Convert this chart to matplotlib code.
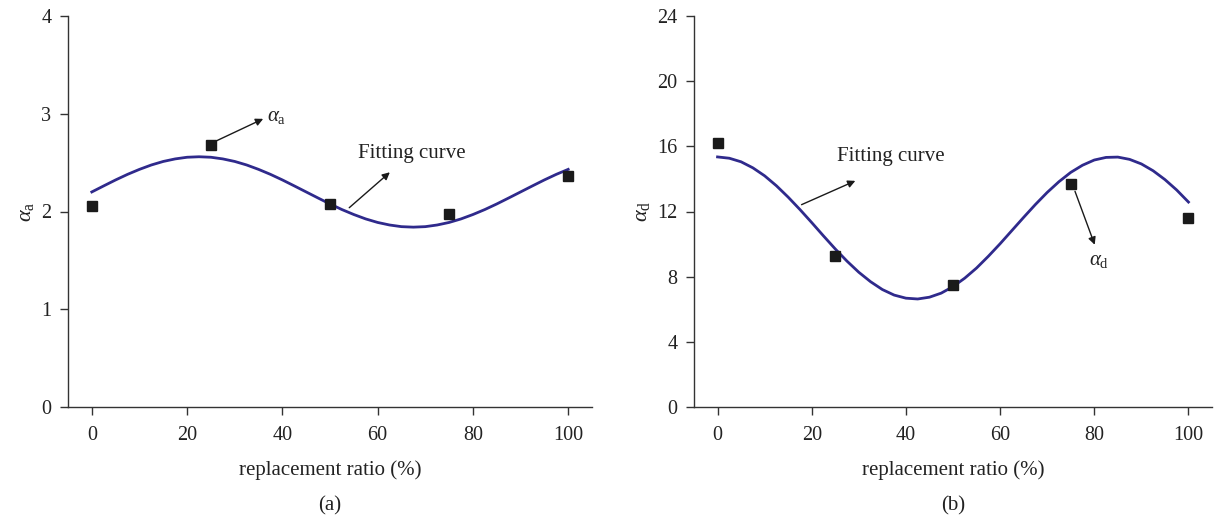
import matplotlib
matplotlib.use("Agg")
import matplotlib.pyplot as plt

plt.rcParams['font.family'] = ['Liberation Serif', 'DejaVu Serif']
plt.rcParams['mathtext.fontset'] = 'custom'
plt.rcParams['mathtext.rm'] = 'Liberation Serif'
plt.rcParams['mathtext.it'] = 'Liberation Serif:italic'

# ---- data ----
ratio = [0, 25, 50, 75, 100]
alpha_a = [2.06, 2.68, 2.08, 1.97, 2.36]
alpha_d = [16.2, 9.25, 7.5, 13.7, 11.6]

fit_x = [0, 2.5, 5, 7.5, 10, 12.5, 15, 17.5, 20, 22.5, 25, 27.5, 30, 32.5, 35, 37.5, 40,
         42.5, 45, 47.5, 50, 52.5, 55, 57.5, 60, 62.5, 65, 67.5, 70, 72.5, 75, 77.5, 80,
         82.5, 85, 87.5, 90, 92.5, 95, 97.5, 100]
fit_y_a = [2.200, 2.262, 2.323, 2.380, 2.431, 2.476, 2.512, 2.538, 2.555, 2.560, 2.555,
           2.538, 2.512, 2.476, 2.431, 2.380, 2.323, 2.262, 2.200, 2.138, 2.077, 2.020,
           1.969, 1.924, 1.888, 1.862, 1.845, 1.840, 1.845, 1.862, 1.888, 1.924, 1.969,
           2.020, 2.077, 2.138, 2.200, 2.262, 2.323, 2.380, 2.431]
fit_y_d = [15.35, 15.27, 15.05, 14.68, 14.19, 13.58, 12.88, 12.12, 11.32, 10.50, 9.70, 8.95,
           8.27, 7.69, 7.21, 6.87, 6.68, 6.63, 6.74, 6.99, 7.39, 7.91, 8.53, 9.25, 10.02,
           10.83, 11.64, 12.43, 13.17, 13.83, 14.40, 14.84, 15.16, 15.32, 15.34, 15.20,
           14.92, 14.50, 13.96, 13.32, 12.58]

x_ticks = [0, 20, 40, 60, 80, 100]
y_ticks_a = [0, 1, 2, 3, 4]
y_ticks_d = [0, 4, 8, 12, 16, 20, 24]

curve_color = '#2f2a8c'
axis_color = '#333333'
txt_color = '#222222'
fs_tick = 14.5
fs = 15

fig = plt.figure(figsize=(12.18, 5.22), dpi=100)
axA = fig.add_axes([68/1218, 115/522, 524/1218, 391/522])
axD = fig.add_axes([694/1218, 115/522, 518/1218, 391/522])


def style(ax, yticks, ylabel, sub):
    ax.set_xlim(-5, 105)
    ax.set_ylim(yticks[0], yticks[-1])
    ax.set_xticks(x_ticks)
    ax.set_yticks(yticks)
    for s in ['top', 'right']:
        ax.spines[s].set_visible(False)
    for s in ['left', 'bottom']:
        ax.spines[s].set_color(axis_color)
        ax.spines[s].set_linewidth(1.0)
    ax.tick_params(direction='out', length=6, width=1.0, color=axis_color,
                   labelsize=fs_tick, labelcolor=txt_color, pad=6)
    ax.tick_params(axis='x', pad=8)
    ax.set_xlabel('replacement ratio (%)', fontsize=fs, color=txt_color, labelpad=11)
    ax.set_ylabel(ylabel, fontsize=fs + 1, color=txt_color, labelpad=4)
    ax.text(0.5, -0.253, sub, transform=ax.transAxes, ha='center', va='center',
            fontsize=fs, color=txt_color)


arrow = dict(arrowstyle='-|>', color='#1a1a1a', lw=1.0, mutation_scale=11)

# ---- panel (a) ----
axA.plot(fit_x, fit_y_a, color=curve_color, lw=2.0, zorder=2, solid_joinstyle='round')
axA.plot(ratio, alpha_a, 's', color='#1a1a1a', ms=6.5, zorder=3)
style(axA, y_ticks_a, r'$\alpha_{\mathrm{a}}$', '(a)')
axA.annotate('', xy=(36.5, 2.96), xytext=(25.6, 2.71), arrowprops=arrow)
axA.text(36.8, 2.97, r'$\alpha_{\mathrm{a}}$', fontsize=fs, color=txt_color, va='center')
axA.annotate('', xy=(63.0, 2.42), xytext=(53.6, 2.02), arrowprops=arrow)
axA.text(55.8, 2.59, 'Fitting curve', fontsize=fs, color=txt_color, va='center')

# ---- panel (b) ----
axD.plot(fit_x, fit_y_d, color=curve_color, lw=2.0, zorder=2, solid_joinstyle='round')
axD.plot(ratio, alpha_d, 's', color='#1a1a1a', ms=6.5, zorder=3)
style(axD, y_ticks_d, r'$\alpha_{\mathrm{d}}$', '(b)')
axD.annotate('', xy=(29.8, 13.95), xytext=(17.3, 12.35), arrowprops=arrow)
axD.text(25.4, 15.4, 'Fitting curve', fontsize=fs, color=txt_color, va='center')
axD.annotate('', xy=(80.3, 9.8), xytext=(75.7, 13.4), arrowprops=arrow)
axD.text(78.8, 9.0, r'$\alpha_{\mathrm{d}}$', fontsize=fs, color=txt_color, va='center')

fig.savefig('out.png', dpi=100)
